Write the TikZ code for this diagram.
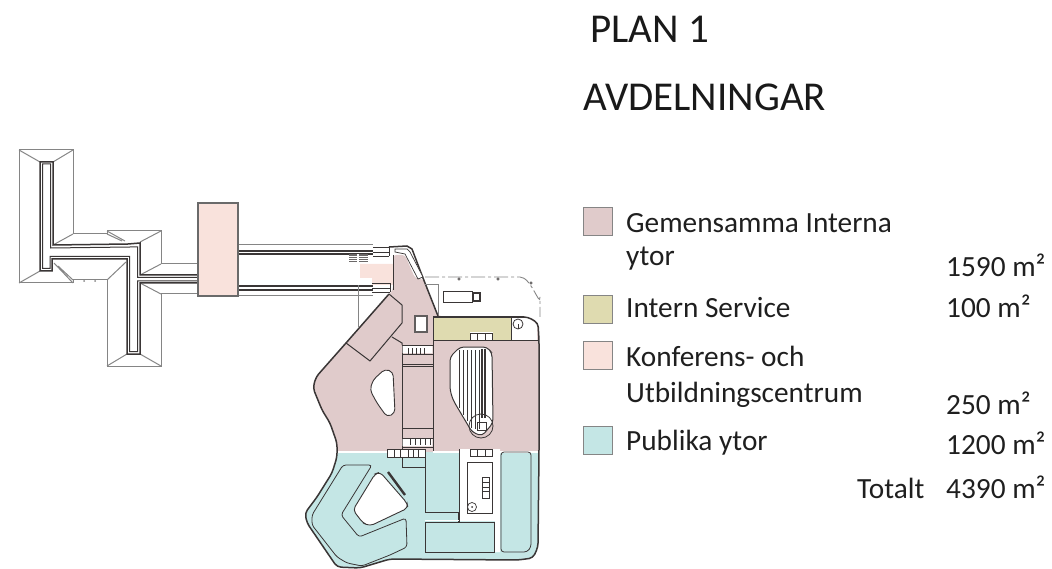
\documentclass[tikz,border=0pt]{standalone}
\usepackage{fontspec}
\setmainfont{Carlito}
\definecolor{pk}{HTML}{E0CBCB}
\definecolor{ol}{HTML}{DFDBB0}
\definecolor{lp}{HTML}{F9E2DC}
\definecolor{tl}{HTML}{C4E6E5}
\definecolor{dk}{HTML}{3A3636}
\definecolor{gy}{HTML}{858585}
\tikzset{
 thinline/.style={draw=gy,line width=1pt},
 wall/.style={draw=dk,line width=1pt},
 heavy/.style={draw=dk,line width=1.5pt},
 roofwall/.style={draw=dk,line width=1.5pt},
 title/.style={anchor=base west,font=\fontsize{41}{41}\selectfont,text=black!90,inner sep=0pt},
 legend/.style={anchor=base west,font=\fontsize{29.3}{29.3}\selectfont,text=black!88,inner sep=0pt},
 swatch/.style={draw=gy,line width=0.8pt,minimum width=29pt,minimum height=28pt,inner sep=0pt,anchor=north west},
}
\begin{document}
\begin{tikzpicture}[x=1pt,y=-1pt,line join=miter]
\useasboundingbox (0,0) rectangle (1052,569);
% ---- left roof
\draw[thinline] (197,264)--(161,264)--(161,231)--(107,231)--(107,234)--(73,234)--(73,150)--(19,150)--(19,283)--(73,283)--(73,280)--(107,280)--(107,366)--(161,366)--(161,294)--(197,294);
\draw[thinline] (19,150)--(40,162) (73,150)--(53,162) (73,234)--(53,245) (19,283)--(40,271)
  (107,231)--(125,241) (107,234)--(122,241) (161,231)--(140,242) (161,264)--(140,275) (161,294)--(140,283)
  (107,366)--(127,354) (161,366)--(140,354) (107,280)--(126,262) (73,283)--(54,263) (73,280)--(58,266);
\draw[roofwall] (197,283)--(140,283)--(140,354)--(127,354)--(127,259)--(52,259)--(52,271)--(40,271)--(40,162)--(53,162)--(53,245)--(128,244)--(140,243)--(140,275)--(197,275);
\draw[roofwall,line width=1pt] (197,281)--(137.5,281)--(137.5,351.5)--(129.5,351.5)--(129.5,256.5)--(50,256.5)--(50,268.5)--(42.5,268.5)--(42.5,164)--(50.5,164)--(50.5,248)--(130,247)--(137.5,247)--(137.5,277.5)--(197,277.5);
\fill[gy] (84,281) circle (1) (95,281) circle (1);
% ---- corridors
\foreach \ya/\yb/\yc in {245/251/254,296/290/286}{
 \draw[thinline] (238,\ya)--(373,\ya);
 \draw[wall,line width=1.2pt] (238,\yb)--(373,\yb) (238,\yc)--(373,\yc);
}
% ---- conference block
\draw[draw=gy!80!black,line width=1.3pt,fill=lp] (198,203) rectangle (238,296);
\fill[lp] (360,264) rectangle (394,278) (372,278) rectangle (394,285);
\draw[thinline] (358,285)--(358,327);
% ---- pink main
\path[fill=pk,rounded corners=3pt] (393,255)--(405,255)--(415,278)--(423,279)--(438,316)--(528,317)--(538,323)--(539,340)--(539,452)
  --(337,452)--(337,443)--(330,423)--(322,410)--(313,388)--(316,377)--(346,343)--(389,294)--(393,290)--cycle;
% ---- teal
\path[fill=tl,rounded corners=4pt] (337,452)--(539,452)--(538,547)--(533,558)--(518,560)--(390,559)--(360,568)--(337,567)--(307,523)--(305,513)--(317,497)--(332,473)--(337,457)--cycle;
% olive and white in right wing
\fill[ol] (433,318) rectangle (511,340);
\fill[white] (511,318)--(528,318)--(537,324)--(537,340)--(511,340)--cycle;
\fill[white] (470,332) rectangle (493,340);
\draw[wall,line width=0.7pt] (470,333) rectangle (492,340) (477.5,333)--(477.5,340) (485,333)--(485,340);
\draw[wall] (433,318)--(433,452) (402,345)--(402,452) (433,340)--(538,340) (511,318)--(511,340);
\draw[wall,line width=0.8pt] (402,345)--(433,345) (402,354)--(433,354) (402,364)--(433,364) (402,366)--(433,366)
  (402,428)--(433,428) (402,438)--(433,438) (402,447)--(433,447);
\fill[white] (402.7,346) rectangle (432.3,353) (402.7,439) rectangle (432.3,446);
\foreach \x in {408,412,416,420,424}{\draw[wall,line width=0.6pt] (\x,348)--(\x,354);}
\foreach \x in {410,415,420,425,430}{\draw[wall,line width=0.6pt] (\x,439)--(\x,445);}
% upper interior lines
\draw[wall] (389,294)--(402,305)--(402,323)--(370,361)--(346,343) (392,337)--(402,343)--(402,345);
\draw[wall] (393,255)--(393,290);
% window
\draw[draw=dk!80,line width=1.2pt,fill=white] (415,316) rectangle (427,332);
% boundary between pink and teal
\draw[white,line width=1.2pt] (337,452)--(402,452) (433,452)--(539,452);
% outer walls
\draw[heavy,rounded corners=4pt] (389,294)--(346,343)--(316,377)--(313,388)--(322,410)--(330,423)--(337,443)--(337,457)--(332,473)--(317,497)--(305,513)--(307,523)--(337,567)--(360,568)--(390,559)--(518,560)--(533,558)--(538,547)--(539,452)--(539,340)--(538,323)--(528,317)--(433,317);
\draw[heavy] (389,247)--(407,246)--(412,249)--(423,278)--(438,316);
% white strip with curved corridor
\draw[draw=dk,line width=0.7pt,fill=white] (395,249)--(407,249)--(410,252)--(423,277)--(418,279)--(405,254)--(395,252)--cycle;
\draw[wall,line width=0.9pt] (373,247)--(389,247) (373,252)--(389,252) (373,256)--(389,256) (389,247)--(389,256)
  (372,283)--(390,283) (372,288)--(390,288) (372,292)--(390,292) (390,283)--(390,292);
\fill[dk!75] (349,254) rectangle (368,263);
\foreach \y in {256,258,260,262}{\draw[white,line width=0.4pt] (349,\y)--(368,\y);}
\draw[white,line width=1.5pt] (358,254)--(358,263);
% dashed service yard
\draw[gy,line width=0.9pt,dash pattern=on 14pt off 3pt on 3pt off 3pt] (425,277)--(520,277) to[out=0,in=-90] (540,297)--(540,317);
\draw[thinline] (425,285)--(438,285)--(438,315);
\draw[wall,line width=0.8pt,fill=white] (443,291) rectangle (472,302);
\draw[heavy,fill=white] (473,293) rectangle (480,301);
\draw[wall,line width=0.6pt] (459,279) circle (1.3) (498,279) circle (1.3) (531,283) circle (1.3);
\draw[wall,line width=0.8pt,fill=white] (518,324) circle (5);
\draw[wall,line width=0.5pt] (518,324)--(518,329) (516,317)--(520,317);
% left hole
\draw[draw=dk,line width=0.9pt,fill=white,rounded corners=4pt] (385,369)--(393,372)--(395,413)--(387,417)--(377,403)--(370,390)--(373,380)--cycle;
% central stair shape
\draw[wall,fill=white,rounded corners=4pt] (460,347)--(487,347)--(492,353)--(493,423)--(482,436)--(472,432)--(453,400)--(450,390)--(450,357)--cycle;
\foreach \x/\yy in {459/408,463/415,467/421,471/428,475/429,479/429}{\draw[wall,line width=0.6pt] (\x,350)--(\x,\yy);}
\foreach \x in {481,482.5,484,485.5}{\draw[wall,line width=0.8pt] (\x,349)--(\x,418);}
\draw[wall,line width=0.8pt] (481,426) circle (12);
\draw[wall,line width=0.6pt] (477,422) rectangle (486,430);
% teal interior
\fill[white] (387,450) rectangle (425,457);
\draw[wall,line width=0.7pt] (387,449) rectangle (425,457) (394,449)--(394,457) (400,449)--(400,457) (408,449)--(408,457) (413,449)--(413,457) (418,449)--(418,457);
\draw[wall,line width=0.8pt] (402,457)--(402,467)--(425,467)--(425,457);
\draw[wall] (425,450)--(425,512)--(458,512)--(458,522) (425,522)--(494,522)--(494,552)--(425,552)--cycle;
\draw[white,line width=1pt] (425,520.5)--(494,520.5);
\path[fill=white] (459,449)--(500,449)--(500,552)--(495,552)--(495,521)--(459,521)--cycle;
\draw[wall] (459,449)--(459,522);
\draw[wall,fill=white] (467,462) rectangle (492,513);
\draw[wall,line width=0.7pt] (482,477) rectangle (489,498) (482,482)--(489,482) (482,487)--(489,487) (482,491)--(489,491);
\draw[wall,line width=0.7pt,fill=white] (472,507) circle (4.5);
\fill[dk] (472,507) circle (1);
\draw[wall,line width=0.7pt,fill=white] (470,449.5) rectangle (492,456) (477.5,449.5)--(477.5,456) (485,449.5)--(485,456);
\draw[wall,line width=0.8pt,rounded corners=3pt] (501,552)--(501,452)--(531,452)--(531,547)--(527,552)--cycle;
\draw[draw=dk,line width=0.8pt,rounded corners=3pt] (343,465)--(372,465)--(341,515)--(359,537)--(406,518)--(407,547)--(390,555)--(362,566)--(347,563)--(337,557)--(312,525)--(312,515)--cycle;
\draw[draw=dk,line width=0.9pt,fill=white,rounded corners=4pt] (380,472)--(407,503)--(408,508)--(370,526)--(363,523)--(353,510)--(375,474)--cycle;
\draw[dk,line width=2.4pt] (388,472)--(405,495);
% ---- texts
\node[title] (t1) at (590,43) {PLAN 1};
\node[title] (t2) at (583,111) {AVDELNINGAR};
\node[swatch,fill=pk] (s1) at (583,207) {};
\node[swatch,fill=ol] (s2) at (583,295) {};
\node[swatch,fill=lp] (s3) at (583,341) {};
\node[swatch,fill=tl] (s4) at (583,426) {};
\node[legend] (a1) at (626,233) {Gemensamma Interna};
\node[legend] (a2) at (626,266) {ytor};
\node[legend] (a3) at (626,317) {Intern Service};
\node[legend] (a4) at (626,366) {Konferens- och};
\node[legend] (a5) at (626,402) {Utbildningscentrum};
\node[legend] (a6) at (626,450) {Publika ytor};
\node[legend] (n1) at (946,277) {1590 m²};
\node[legend] (n2) at (946,318) {100 m²};
\node[legend] (n3) at (946,414) {250 m²};
\node[legend] (n4) at (946,454) {1200 m²};
\node[legend] (n5) at (857,498) {Totalt};
\node[legend] (n6) at (946,498) {4390 m²};
\end{tikzpicture}
\end{document}
